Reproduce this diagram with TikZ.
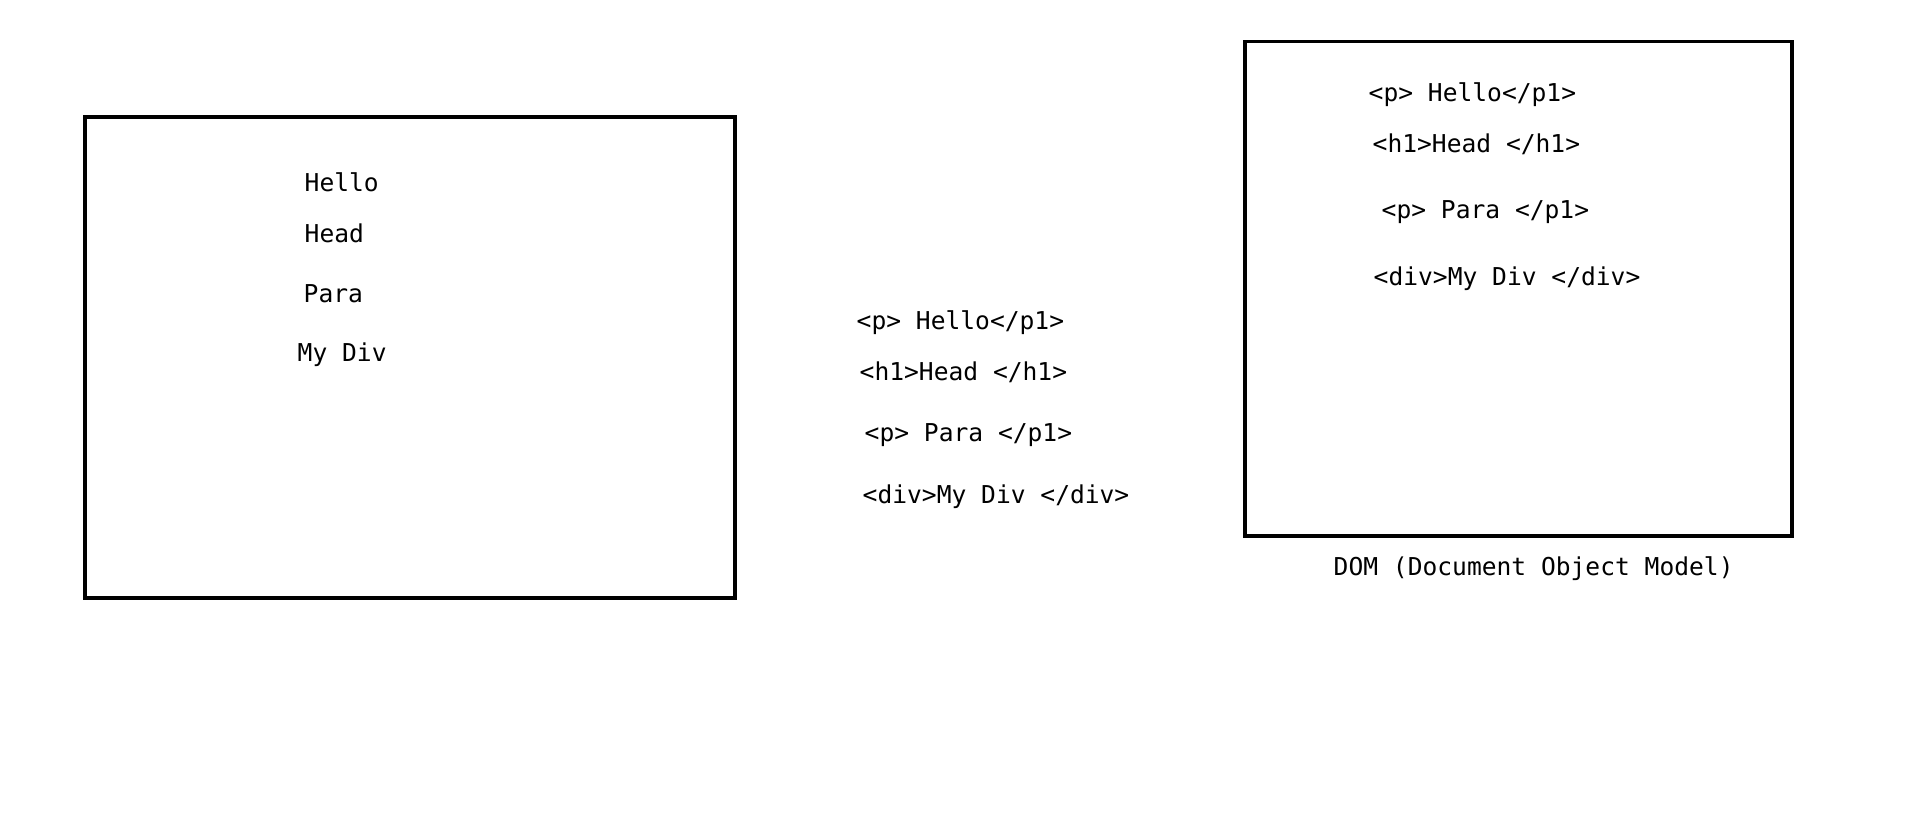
\documentclass[tikz,border=0pt]{standalone}
\usepackage{fontspec}
\setmonofont{DejaVu Sans Mono}
\usepackage{tikz}

\tikzset{code/.style={font=\ttfamily\fontsize{7}{8}\selectfont, anchor=west, inner sep=0pt, text height=0.73em, text depth=0pt}}

\begin{document}
\begin{tikzpicture}
            % Page size
            \useasboundingbox (0,0) rectangle (19.14,8.22);

            % Boxes
            \draw[line width=1pt] (0.85,2.24) rectangle (7.35,7.05);
            \draw[line width=1pt] (12.45,2.86) rectangle (17.92,7.805);

            % Rendered page
            \node[code] (hello) at (3.04,6.435) {Hello};
            \node[code] (head) at (3.04,5.925) {Head};
            \node[code] (para) at (3.03,5.325) {Para};
            \node[code] (mydiv) at (2.97,4.735) {My Div};

            % Source
            \node[code] (srcp) at (8.56,5.055) {<p> Hello</p1>};
            \node[code] (srch) at (8.59,4.545) {<h1>Head </h1>};
            \node[code] (srcpara) at (8.64,3.935) {<p> Para </p1>};
            \node[code] (srcdiv) at (8.62,3.315) {<div>My Div </div>};

            % DOM
            \node[code] (domp) at (13.68,7.335) {<p> Hello</p1>};
            \node[code] (domh) at (13.72,6.825) {<h1>Head </h1>};
            \node[code] (dompara) at (13.81,6.165) {<p> Para </p1>};
            \node[code] (domdiv) at (13.73,5.495) {<div>My Div </div>};

            % Caption
            \node[code] (domlabel) at (13.33,2.595) {DOM (Document Object Model)};
        \end{tikzpicture}
\end{document}
